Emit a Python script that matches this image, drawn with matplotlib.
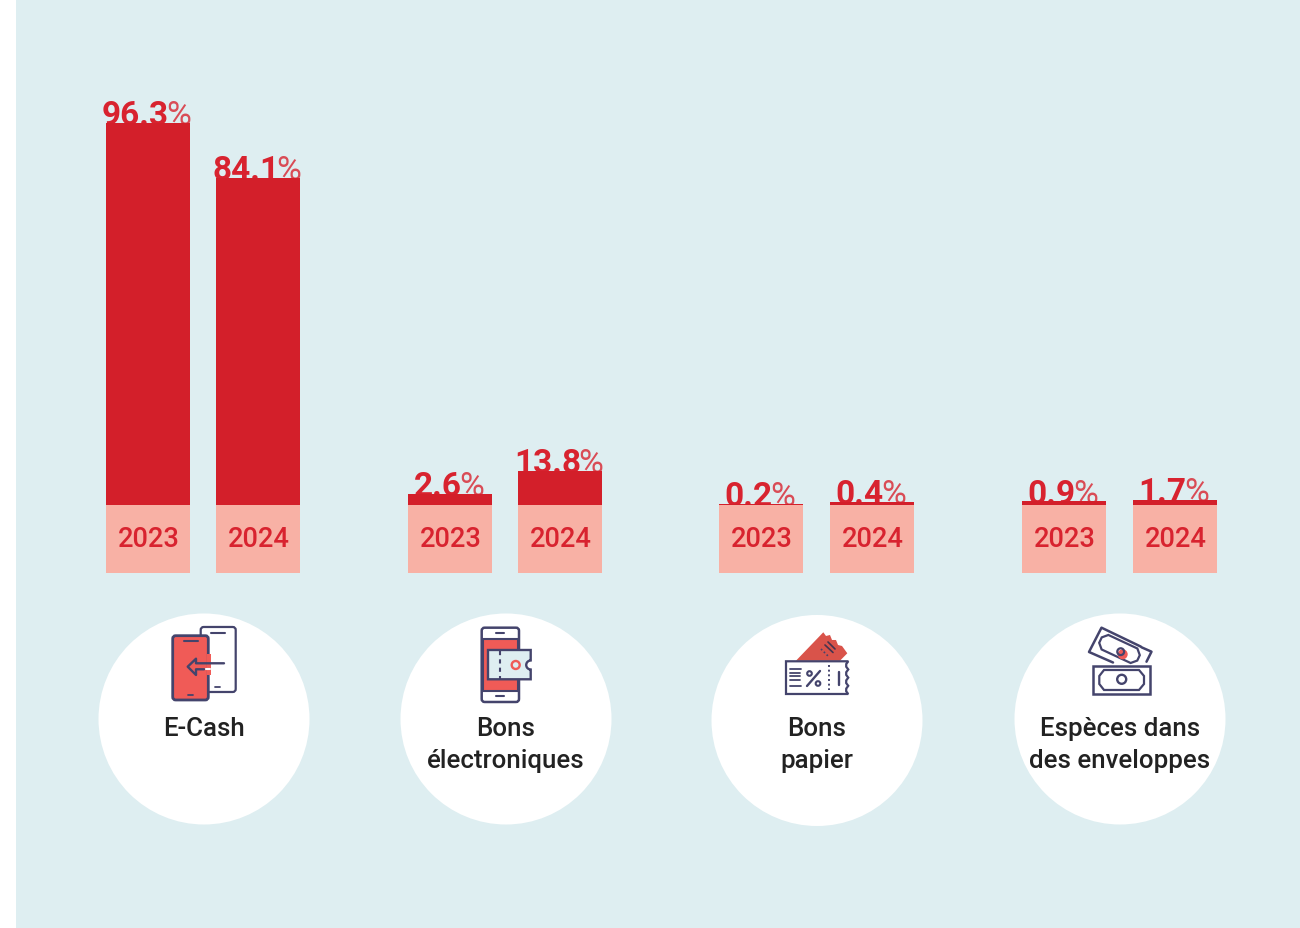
import numpy as np
import matplotlib
matplotlib.use("Agg")
import matplotlib.pyplot as plt
from matplotlib.patches import Circle, FancyBboxPatch, Polygon, Rectangle

categories = ["E-Cash", "Bons\nélectroniques", "Bons\npapier", "Espèces dans\ndes enveloppes"]
years = ["2023", "2024"]
labels_2023 = ["96.3", "2.6", "0.2", "0.9"]
labels_2024 = ["84.1", "13.8", "0.4", "1.7"]
# Heights as drawn in the picture (the bars are not strictly proportional to their labels)
drawn_2023 = [96.3, 2.8, 0.3, 1.0]
drawn_2024 = [82.4, 8.6, 0.8, 1.3]

NAVY = "#44446C"; RED = "#D31F2A"; TXT = "#D8232F"; SALMON = "#F8B1A5"
PANEL = "#DEEEF1"; ICON = "#F05B57"; INK = "#222222"
FONT = "Roboto"

W, H = 1300, 928
fig = plt.figure(figsize=(W / 100, 9.2805), dpi=100, facecolor="white")

PX_PER_UNIT = 3.97
BASE_PX = 505
px = fig.add_axes([0, 0, 1, 1], zorder=1)
px.set_xlim(0, W); px.set_ylim(H, 0); px.axis("off")
ax = fig.add_axes([0, 0, 1, 1], zorder=2)
ax.set_xlim(0, W)
ax.set_ylim((BASE_PX - H) / PX_PER_UNIT, BASE_PX / PX_PER_UNIT)
ax.axis("off"); ax.patch.set_alpha(0)
top = fig.add_axes([0, 0, 1, 1], zorder=3)
top.set_xlim(0, W); top.set_ylim(H, 0); top.axis("off"); top.patch.set_alpha(0)

px.add_patch(Rectangle((16, 0), 1284, H, fc=PANEL, ec="none"))

centers_2023 = [148, 450, 761, 1064]
centers_2024 = [258, 560, 872, 1175]
circle_x = [204, 506, 817, 1120]
circle_y = [719, 719, 720.5, 719]
BAR_W = 84
BOX_UNITS = 68 / PX_PER_UNIT

fig.canvas.draw()
rend = fig.canvas.get_renderer()


def value_label(xc, value, bar_value):
    y = BASE_PX - bar_value * PX_PER_UNIT + 2.5
    a = px.text(0, y, value, fontsize=24, fontweight="bold", color=TXT, family=FONT,
                ha="left", va="baseline")
    b = px.text(0, y, "%", fontsize=24.5, fontweight="normal", color=TXT, family=FONT,
                alpha=0.8, ha="left", va="baseline")
    wa = a.get_window_extent(rend).width
    wb = b.get_window_extent(rend).width
    left = xc - (wa + wb - 2) / 2 - 1
    a.set_x(left); b.set_x(left + wa - 2.5)


for xs, vals, labs, yr in [(centers_2023, drawn_2023, labels_2023, years[0]),
                           (centers_2024, drawn_2024, labels_2024, years[1])]:
    ax.bar(xs, vals, width=BAR_W, color=RED, linewidth=0)
    ax.bar(xs, [-BOX_UNITS] * len(xs), width=BAR_W, color=SALMON, linewidth=0)
    for x, v, l in zip(xs, vals, labs):
        value_label(x, l, v)
        ax.text(x + 0.8, -BOX_UNITS / 2 + 0.55, yr, fontsize=19.6, fontweight="medium", color=TXT,
                family=FONT, ha="center", va="center_baseline")

for x, y, name in zip(circle_x, circle_y, categories):
    top.add_patch(Circle((x, y), 105.5, fc="white", ec="none"))
    for i, line_text in enumerate(name.split("\n")):
        top.text(x, 735.5 + 32 * i, line_text, fontsize=18.6, fontweight="medium", color=INK,
                 family=FONT, ha="center", va="baseline", zorder=6)


def rrect(x0, y0, x1, y1, r=3, fc="none", ec=NAVY, lw=2, z=4):
    top.add_patch(FancyBboxPatch((x0 + r, y0 + r), x1 - x0 - 2 * r, y1 - y0 - 2 * r,
                                 boxstyle=f"round,pad={r},rounding_size={r}",
                                 fc=fc, ec=ec, lw=lw, zorder=z))


def line(xs, ys, lw=1.8, c=NAVY, z=5, **kw):
    top.plot(xs, ys, color=c, lw=lw, zorder=z, solid_capstyle="round",
             solid_joinstyle="round", **kw)


# --- E-Cash icon
rrect(200.7, 627, 235.7, 692, fc="white", lw=1.6)
line([210.7, 225], [633, 633], lw=1.5)
line([215, 220], [687.3, 687.3], lw=1.3)
rrect(172.7, 635.7, 208.3, 700, fc=ICON, lw=2)
top.add_patch(Rectangle((206.5, 654), 4, 21, fc=ICON, ec="none", zorder=4.5))
line([184, 197.7], [640.7, 640.7], lw=1.5)
line([188, 193], [695, 695], lw=1.3)
line([224, 196, 196, 187.7, 196, 196, 204], [663.3, 663.3, 658.7, 666.7, 675, 669.3, 669.3], lw=1.7)
line([206, 210], [669.3, 669.3], lw=1.5, c="white")

# --- Bons électroniques icon
rrect(481.7, 627.7, 519, 702, fc="white", lw=1.8)
top.add_patch(Rectangle((482.5, 639), 35.6, 52, fc=ICON, ec=NAVY, lw=1.5, zorder=4.2))
line([496, 504.3], [633.3, 633.3], lw=1.5)
line([496, 504.3], [696, 696], lw=1.5)
t = np.linspace(np.pi / 2, -np.pi / 2, 12)
notch_x = 530.7 - 4.5 * np.cos(t)
notch_y = 665 - 4.5 * np.sin(t)
tick = np.column_stack([np.r_[488, 530.7, notch_x, 530.7, 488],
                        np.r_[650, 650, notch_y, 679.3, 679.3]])
top.add_patch(Polygon(tick, closed=True, fc=PANEL, ec=NAVY, lw=1.7, zorder=5))
line([500, 500], [651, 679], lw=1.5, z=6, linestyle=(0, (2.0, 2.0)))
top.add_patch(Circle((515.7, 665), 4, fc="none", ec=ICON, lw=1.7, zorder=6))

# --- Bons papier icon
back = [(796, 660.7), (823.3, 632.3), (826, 636), (830, 635), (832, 640), (836, 640),
        (838, 645), (842, 646), (847.3, 653.3), (840, 660.7)]
top.add_patch(Polygon(back, closed=True, fc="#D9534A", ec="none", zorder=4))
line([821, 829], [649, 657], lw=1.2, linestyle=(0, (1, 1.4)), z=4.5)
line([825, 833], [645, 652.5], lw=1.2, z=4.5, c="#44344F")
line([828, 835], [642, 649], lw=1.2, z=4.5, c="#44344F")
wy = np.linspace(661.3, 694, 13)
wx = 848.3 - 2.4 * np.abs(np.sin((wy - 661.3) * np.pi / 8.2))
front = np.column_stack([np.r_[786, wx, 786], np.r_[661.3, wy, 694]])
top.add_patch(Polygon(front, closed=True, fc="white", ec=NAVY, lw=1.6, zorder=4.6))
for yy, x1 in zip([669.5, 673, 676.5, 680, 686], [801, 800, 800, 800, 801]):
    line([789.5, x1], [yy, yy], lw=1.3)
line([807, 820], [686, 671], lw=1.7)
top.add_patch(Circle((809.5, 673.5), 2.3, fc="none", ec=NAVY, lw=1.5, zorder=5))
top.add_patch(Circle((818, 683.5), 2.3, fc="none", ec=NAVY, lw=1.5, zorder=5))
line([829.3, 829.3], [665, 690], lw=1.4, linestyle=(0, (1, 1.4)))
line([838.7, 838.7], [671.7, 685], lw=1.7)

# --- Espèces icon
line([1113, 1089, 1101.5, 1141], [662.5, 652, 627.7, 646.7], lw=1.8)
line([1141.5, 1151.5, 1146.5], [647.3, 651.7, 661.7], lw=1.8)
ang = np.deg2rad(25)
lx = np.array([-16, 16, 21, 21, 16, -16, -21, -21])
ly = np.array([-8, -8, -3, 3, 8, 8, 3, -3])
ox = 1119.5 + lx * np.cos(ang) - ly * np.sin(ang)
oy = 649 + lx * np.sin(ang) + ly * np.cos(ang)
top.add_patch(Polygon(np.column_stack([ox, oy]), closed=True, fc="none", ec=NAVY, lw=1.6, zorder=4))
top.add_patch(Circle((1122.7, 654.3), 5, fc=ICON, ec="none", zorder=4.5))
top.add_patch(Circle((1120.7, 651.7), 3.4, fc="none", ec=NAVY, lw=1.6, zorder=5))
top.add_patch(Rectangle((1093.3, 665.7), 56.7, 28.6, fc="white", ec=NAVY, lw=1.8, zorder=4.6))
oct_pts = [(1104, 670), (1139, 670), (1144, 676), (1144, 684), (1139, 690), (1104, 690),
           (1099.3, 684), (1099.3, 676)]
top.add_patch(Polygon(oct_pts, closed=True, fc="white", ec=NAVY, lw=1.6, zorder=5))
top.add_patch(Circle((1121.7, 679.3), 4.5, fc="white", ec=NAVY, lw=1.7, zorder=5.5))

fig.savefig("out.png", dpi=100, facecolor="white")
